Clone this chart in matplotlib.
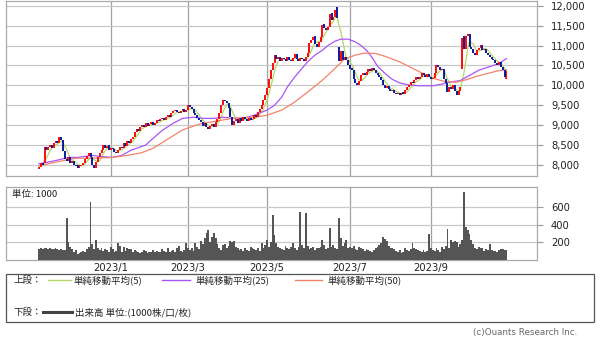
import pandas as pd
import matplotlib.pyplot as plt
from matplotlib.lines import Line2D
from matplotlib.patches import Rectangle
from matplotlib.ticker import FuncFormatter

plt.rcParams['font.family'] = ['DejaVu Sans', 'Noto Sans CJK JP']
JP = ['Noto Sans CJK JP', 'DejaVu Sans']

# ===================== データ（日足） =====================
START_DATE = '2022-11-08'

opens = [
    7900, 7960, 8060, 8050, 8460, 8370, 8460, 8500, 8430, 8540,
    8610, 8560, 8700, 8620, 8350, 8160, 8100, 8200, 8060, 8100,
    8010, 7990, 7920, 7980, 8000, 8060, 8150, 8220, 8300, 8200,
    8010, 7930, 8080, 8200, 8300, 8380, 8500, 8430, 8490, 8370,
    8420, 8400, 8320, 8290, 8370, 8460, 8420, 8560, 8480, 8610,
    8550, 8650, 8700, 8820, 8910, 8850, 8960, 9010, 8950, 9060,
    8980, 9020, 9090, 9000, 9050, 9130, 9100, 9150, 9190, 9120,
    9200, 9260, 9200, 9300, 9350, 9390, 9330, 9300, 9350, 9410,
    9320, 9380, 9510, 9450, 9400, 9300, 9250, 9180, 9120, 9080,
    8980, 9050, 8950, 8900, 8980, 9030, 8950, 9080, 9150, 9300,
    9500, 9630, 9600, 9550, 9420, 9200, 9000, 9100, 9160, 9050,
    9190, 9100, 9210, 9150, 9100, 9190, 9120, 9150, 9260, 9200,
    9330, 9400, 9500, 9620, 9750, 9930, 10150, 10380, 10550, 10770,
    10650, 10710, 10620, 10690, 10660, 10600, 10710, 10640, 10620, 10680,
    10780, 10650, 10620, 10690, 10660, 10600, 10700, 10800, 11060, 11150,
    11230, 11050, 10960, 11100, 11210, 11530, 11450, 11400, 11470, 11810,
    11650, 11720, 11970, 10960, 10600, 10850, 10630, 10700, 10640, 10500,
    10430, 10380, 10150, 10060, 10000, 10120, 10250, 10310, 10250, 10330,
    10410, 10350, 10440, 10380, 10310, 10260, 10200, 10130, 10000, 9930,
    9990, 9900, 9850, 9890, 9820, 9780, 9810, 9750, 9830, 9780,
    9880, 9950, 10000, 10090, 10050, 10130, 10210, 10150, 10220, 10310,
    10260, 10220, 10290, 10200, 10150, 10180, 10300, 10510, 10460, 10380,
    10400, 10150, 10050, 9830, 9960, 9900, 10010, 9850, 9750, 9850,
    10400, 11250, 10900, 11250, 11300, 10960, 10900, 10800, 10750, 10880,
    10950, 11010, 10880, 10900, 10820, 10760, 10700, 10650, 10630, 10550,
    10500, 10580, 10450, 10380, 10150,
]

closes = [
    7950, 8050, 8000, 8450, 8380, 8450, 8500, 8420, 8550, 8600,
    8550, 8700, 8620, 8350, 8150, 8100, 8200, 8050, 8100, 8000,
    7980, 7920, 7990, 8000, 8050, 8150, 8220, 8290, 8200, 8000,
    7930, 8080, 8200, 8300, 8380, 8500, 8430, 8480, 8380, 8420,
    8400, 8320, 8300, 8370, 8450, 8420, 8550, 8480, 8600, 8550,
    8650, 8700, 8820, 8900, 8850, 8960, 9000, 8950, 9050, 8980,
    9020, 9080, 9000, 9050, 9120, 9100, 9150, 9180, 9120, 9200,
    9250, 9200, 9300, 9350, 9380, 9320, 9300, 9350, 9400, 9320,
    9380, 9500, 9450, 9400, 9300, 9250, 9180, 9120, 9080, 8980,
    9050, 8950, 8900, 8980, 9020, 8950, 9080, 9150, 9300, 9500,
    9620, 9600, 9550, 9420, 9200, 9000, 9100, 9150, 9050, 9180,
    9100, 9200, 9150, 9100, 9180, 9120, 9150, 9250, 9200, 9330,
    9400, 9500, 9620, 9750, 9930, 10150, 10380, 10550, 10760, 10650,
    10700, 10620, 10680, 10650, 10600, 10700, 10640, 10620, 10680, 10780,
    10650, 10620, 10680, 10650, 10600, 10700, 10800, 11060, 11150, 11220,
    11050, 10960, 11100, 11210, 11520, 11450, 11400, 11470, 11800, 11650,
    11720, 11890, 11700, 10600, 10850, 10630, 10700, 10630, 10500, 10420,
    10380, 10150, 10050, 10000, 10120, 10250, 10300, 10250, 10330, 10400,
    10350, 10430, 10380, 10300, 10260, 10200, 10130, 10000, 9930, 9980,
    9900, 9850, 9880, 9820, 9780, 9800, 9750, 9820, 9780, 9880,
    9950, 10000, 10080, 10050, 10130, 10200, 10150, 10220, 10300, 10260,
    10220, 10280, 10200, 10150, 10180, 10300, 10500, 10460, 10380, 10400,
    10150, 10050, 9830, 9950, 9900, 10000, 9850, 9750, 9850, 9950,
    11200, 10900, 11250, 11300, 10960, 10900, 10800, 10750, 10880, 10950,
    11010, 10880, 10900, 10820, 10760, 10700, 10650, 10630, 10550, 10500,
    10580, 10450, 10380, 10200, 10350,
]

volumes = [
    125, 130, 120, 135, 130, 128, 132, 125, 120, 130,
    125, 115, 120, 110, 118, 470, 200, 150, 120, 95,
    110, 70, 80, 90, 100, 85, 120, 150, 660, 180,
    120, 230, 140, 110, 130, 100, 120, 115, 95, 150,
    120, 90, 100, 190, 160, 90, 150, 100, 130, 120,
    120, 95, 110, 100, 85, 80, 90, 110, 100, 80,
    95, 90, 110, 85, 100, 95, 90, 120, 100, 85,
    130, 90, 100, 110, 95, 130, 160, 100, 90, 110,
    190, 140, 110, 130, 100, 190, 150, 120, 220, 180,
    250, 310, 335, 200, 260, 300, 250, 180, 140, 110,
    170, 180, 130, 160, 220, 200, 210, 150, 130, 110,
    120, 100, 140, 110, 100, 150, 140, 120, 110, 130,
    100, 190, 140, 170, 230, 150, 200, 510, 280, 190,
    150, 140, 120, 110, 160, 130, 120, 150, 190, 140,
    110, 150, 540, 170, 140, 530, 160, 120, 130, 150,
    110, 140, 130, 150, 230, 170, 120, 140, 360, 150,
    170, 140, 120, 470, 250, 160, 190, 230, 140, 150,
    130, 160, 120, 110, 150, 130, 120, 100, 120, 110,
    100, 90, 110, 130, 150, 170, 190, 265, 240, 210,
    160, 130, 140, 120, 100, 90, 110, 80, 90, 130,
    110, 100, 120, 190, 140, 120, 110, 100, 90, 110,
    95, 100, 290, 130, 110, 100, 140, 110, 90, 150,
    120, 160, 345, 140, 230, 200, 210, 200, 150, 180,
    230, 770, 370, 335, 290, 230, 180, 140, 120, 150,
    140, 130, 100, 120, 110, 180, 110, 100, 105, 95,
    115, 120, 120, 115, 110,
]

# 25日・50日移動平均（チャートから読み取り）
ma25_pos = [0, 9, 16, 21, 29, 34, 40, 45, 50, 58, 62, 67, 73, 78, 84, 89, 95,
            100, 105, 111, 117, 124, 128, 132, 135, 139, 143, 146, 150, 154,
            157, 161, 164, 168, 172, 175, 178, 181, 184, 188, 192, 196, 201,
            206, 214, 218, 223, 229, 234, 239, 245, 250, 254]
ma25_val = [8030, 8110, 8190, 8190, 8240, 8210, 8190, 8240, 8370, 8500, 8670,
            8870, 9050, 9170, 9200, 9170, 9170, 9200, 9170, 9170, 9250, 9380,
            9500, 9710, 9960, 10210, 10430, 10590, 10760, 10880, 11000, 11110,
            11160, 11160, 11090, 11000, 10880, 10700, 10480, 10300, 10150,
            10060, 10010, 9990, 9990, 10020, 10080, 10120, 10250, 10380,
            10470, 10550, 10670]

ma50_pos = [0, 9, 20, 30, 40, 48, 56, 62, 70, 78, 88, 95, 105, 117, 124, 132,
            139, 146, 154, 161, 166, 172, 177, 183, 188, 196, 205, 214, 221,
            227, 233, 238, 244, 249, 254]
ma50_val = [7980, 8070, 8170, 8170, 8190, 8240, 8310, 8420, 8650, 8880, 9040,
            9090, 9170, 9200, 9250, 9380, 9580, 9830, 10130, 10430, 10660,
            10760, 10810, 10800, 10730, 10590, 10380, 10180, 10090, 10080,
            10150, 10230, 10300, 10360, 10390]

TICK_MONTHS = [1, 3, 5, 7, 9]

# ===================== 前処理 =====================
df = pd.DataFrame({'open': opens, 'close': closes, 'volume': volumes})
df['date'] = pd.bdate_range(START_DATE, periods=len(df))
df['ma5'] = df['close'].rolling(5, min_periods=1).mean()
x = df.index.values

tick_pos = []
tick_lab = []
for m in TICK_MONTHS:
    hit = df.index[(df['date'].dt.year == 2023) & (df['date'].dt.month == m)]
    tick_pos.append(hit[0])
    tick_lab.append(f"2023/{m}")

# ===================== 描画 =====================
W, H = 600, 341
fig = plt.figure(figsize=(6, 3.41), dpi=100)

def fx(px):
    return px / W

def fy(py):
    return 1 - py / H

XL, XR = 6, 537
xlim = ((XL - 39) / 1.84, (XR - 39) / 1.84)
grid_h = '#c8c8c8'
grid_v = '#a0a0a0'

ax1 = fig.add_axes([fx(XL), fy(176), fx(XR - XL), (176 - 1) / H])
ax2 = fig.add_axes([fx(XL), fy(260), fx(XR - XL), (260 - 186.7) / H])

# 上段：ローソク足＋移動平均
up = df['close'] >= df['open']
ax1.plot(x, df['ma5'], color='#b2d86a', lw=0.9, zorder=2)
ax1.plot(ma25_pos, ma25_val, color='#a855f7', lw=0.9, zorder=2)
ax1.plot(ma50_pos, ma50_val, color='#f2836b', lw=0.9, zorder=2)
ax1.vlines(x[up], df['open'][up], df['close'][up], color='#ff0a0a', lw=1.4, zorder=3)
ax1.vlines(x[~up], df['open'][~up], df['close'][~up], color='#0a1a9c', lw=1.4, zorder=3)
ax1.set_ylim(7723, 12118)
ax1.set_yticks(range(8000, 12001, 500))

# 下段：出来高
ax2.bar(x, df['volume'], width=1.0, color='#555555', linewidth=0, zorder=3)
ax2.set_ylim(0, 828)
ax2.set_yticks([200, 400, 600])

for ax in (ax1, ax2):
    ax.set_xlim(*xlim)
    ax.set_xticks(tick_pos)
    ax.yaxis.tick_right()
    ax.grid(axis='y', color=grid_h, lw=0.9, zorder=0)
    ax.grid(axis='x', color=grid_v, lw=0.9, zorder=0)
    ax.tick_params(axis='y', direction='out', length=4, width=0.8, color='#999999',
                   pad=6, labelsize=7.2, labelcolor='#222222')
    for s in ax.spines.values():
        s.set_color('#aaaaaa')
        s.set_linewidth(0.9)

ax1.yaxis.set_major_formatter(FuncFormatter(lambda v, p: f"{int(v):,}"))
ax1.tick_params(axis='x', length=0, labelbottom=False)
ax2.set_xticklabels(tick_lab)
ax2.tick_params(axis='x', length=0, pad=2, labelsize=7.2, labelcolor='#222222')

fig.text(fx(12), fy(194), '単位: 1000', family=JP, fontsize=6.8, va='center',
         color='#222222')

# 凡例
fig.add_artist(Rectangle((fx(6), fy(322)), fx(588), (322 - 274) / H,
                         transform=fig.transFigure, fill=False,
                         edgecolor='#555555', lw=0.9))
r1, r2 = 280, 312
leg_items = [
    (48, 71, 74, '#b2d86a', '単純移動平均(5)'),
    (162, 190, 195, '#a855f7', '単純移動平均(25)'),
    (295, 322, 328, '#f2836b', '単純移動平均(50)'),
]
fig.text(fx(13), fy(r1), '上段：', family=JP, fontsize=6.8, va='center', color='#222222')
for x0, x1, tx, col, lab in leg_items:
    fig.add_artist(Line2D([fx(x0), fx(x1)], [fy(r1), fy(r1)],
                          transform=fig.transFigure, color=col, lw=1.0))
    fig.text(fx(tx), fy(r1), lab, family=JP, fontsize=6.8, va='center', color='#222222')

fig.text(fx(13), fy(r2), '下段：', family=JP, fontsize=6.8, va='center', color='#222222')
fig.add_artist(Line2D([fx(43), fx(72)], [fy(r2), fy(r2)],
                      transform=fig.transFigure, color='#444444', lw=2.2))
fig.text(fx(75), fy(r2), '出来高 単位:(1000株/口/枚)', family=JP, fontsize=6.8,
         va='center', color='#222222')

fig.text(fx(577), fy(333), '(c)Ouants Research Inc.', fontsize=6.3, ha='right',
         va='center', color='#666666')

fig.savefig('out.png', dpi=100)
